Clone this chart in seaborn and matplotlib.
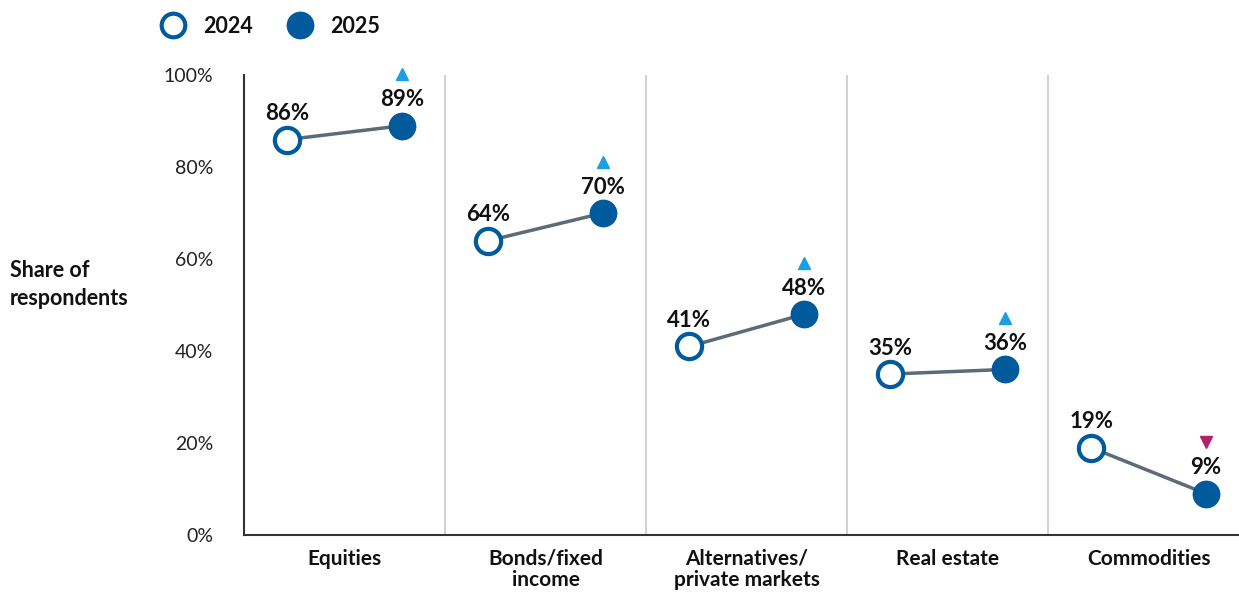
import pandas as pd
import seaborn as sns
import matplotlib.pyplot as plt
from matplotlib.lines import Line2D
from matplotlib.transforms import ScaledTranslation

# Asset classes and share of respondents per survey year
categories = ["Equities", "Bonds/fixed\nincome", "Alternatives/\nprivate markets",
              "Real estate", "Commodities"]
share_2024 = [86, 64, 41, 35, 19]
share_2025 = [89, 70, 48, 36, 9]
change_dir = ["up", "up", "up", "up", "down"]
years = ["2024", "2025"]
yticks = [0, 20, 40, 60, 80, 100]
ytick_labels = ["0%", "20%", "40%", "60%", "80%", "100%"]

BLUE = "#005a9c"
LINE = "#5b6b78"
UP = "#1a9fe0"
DOWN = "#b5206b"
TEXT = "#111111"
DODGE = 0.285

rows = []
for i, cat in enumerate(categories):
    rows.append({"category": cat, "year": years[0], "share": share_2024[i], "pos": i - DODGE})
    rows.append({"category": cat, "year": years[1], "share": share_2025[i], "pos": i + DODGE})
df = pd.DataFrame(rows)

sns.set_theme(style="white")
plt.rcParams["font.family"] = ["Lato", "DejaVu Sans"]

fig = plt.figure(figsize=(12.39, 5.92), dpi=100)
ax = fig.add_axes([0.197, 0.0963, 0.803, 0.7767])

# category separators
for b in [0.5, 1.5, 2.5, 3.5]:
    ax.axvline(b, color="#c8c8c8", lw=1.2, zorder=0)

# connecting lines between the two years
sns.lineplot(data=df, x="pos", y="share", units="category", estimator=None,
             color=LINE, lw=2.5, sort=False, ax=ax, legend=False, zorder=2)

# 2024: open markers, 2025: filled markers
sns.scatterplot(data=df[df.year == "2024"], x="pos", y="share", s=330,
                color="white", edgecolor=BLUE, linewidth=3, ax=ax, zorder=3,
                legend=False, clip_on=False)
sns.scatterplot(data=df[df.year == "2025"], x="pos", y="share", s=400,
                color=BLUE, edgecolor=BLUE, linewidth=0, ax=ax, zorder=3,
                legend=False, clip_on=False)

# value labels
for _, r in df.iterrows():
    ax.annotate(f"{r.share}%", (r.pos, r.share), xytext=(0, 14),
                textcoords="offset points", ha="center", va="baseline",
                fontsize=16, fontweight="bold", color=TEXT, annotation_clip=False)

# change indicators above the 2025 labels
shift = ax.transData + ScaledTranslation(0, 37 / 72, fig.dpi_scale_trans)
for i, d in enumerate(change_dir):
    ax.plot(i + DODGE, share_2025[i], marker="^" if d == "up" else "v",
            color=UP if d == "up" else DOWN, markersize=9, ls="none",
            transform=shift, clip_on=False)

ax.set_xlim(-0.5, 4.45)
ax.set_ylim(0, 100)
ax.set_xticks(range(len(categories)))
ax.set_xticklabels(categories, fontsize=15, fontweight="bold", color=TEXT,
                   linespacing=1.1)
ax.set_yticks(yticks)
ax.set_yticklabels(ytick_labels, fontsize=14, color="#222222")
ax.tick_params(axis="y", length=0, pad=22)
ax.tick_params(axis="x", length=0, pad=10)
ax.set_xlabel("")
ax.set_ylabel("")
for s in ["top", "right"]:
    ax.spines[s].set_visible(False)
for s in ["left", "bottom"]:
    ax.spines[s].set_color("#333333")
    ax.spines[s].set_linewidth(1.5)

fig.text(0.008, 0.52, "Share of\nrespondents", fontsize=15.5, fontweight="bold",
         color=TEXT, ha="left", va="center", linespacing=1.4)

handles = [
    Line2D([], [], marker="o", ls="none", markersize=17, mfc="white", mec=BLUE, mew=3),
    Line2D([], [], marker="o", ls="none", markersize=20, mfc=BLUE, mec=BLUE, mew=0),
]
leg = fig.legend(handles, years, loc="center left", bbox_to_anchor=(0.131, 0.956),
                 ncol=2, frameon=False, handlelength=1.0, handletextpad=0.9,
                 columnspacing=1.7, borderaxespad=0, borderpad=0,
                 prop={"size": 15.5, "weight": "bold"})
for t in leg.get_texts():
    t.set_color(TEXT)

fig.savefig("out.png", dpi=100)
